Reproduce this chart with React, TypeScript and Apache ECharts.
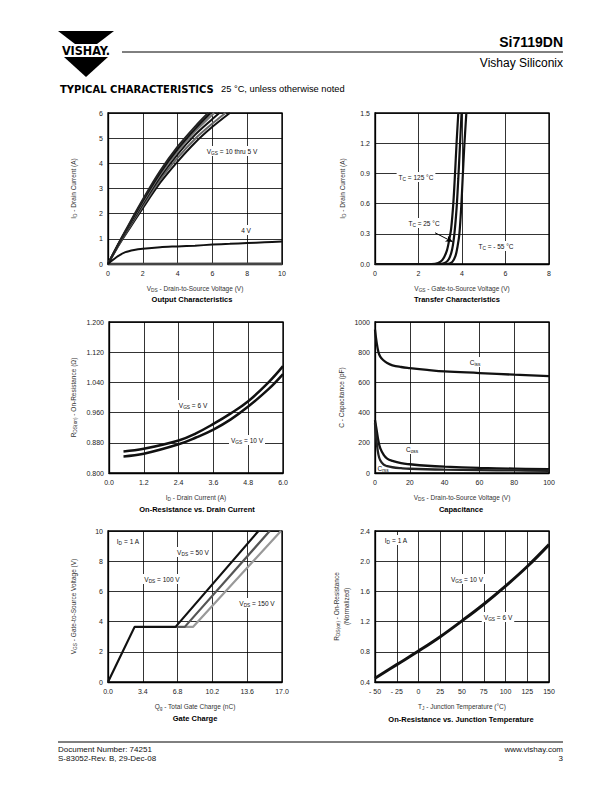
import React, { useEffect, useRef } from 'react';
import * as echarts from 'echarts';

const FONT = '"Liberation Sans", Arial, Helvetica, sans-serif';

// ---- Output Characteristics (VDS [V], ID [A]) ----
const outV10 = [[0, 0], [0.5, 0.68], [1, 1.32], [2, 2.56], [3, 3.7], [4, 4.66], [5, 5.46], [5.75, 6.0]];
const outV9 = [[0, 0], [0.5, 0.67], [1, 1.29], [2, 2.5], [3, 3.62], [4, 4.56], [5, 5.36], [5.9, 6.0]];
const outV8 = [[0, 0], [0.5, 0.66], [1, 1.27], [2, 2.45], [3, 3.55], [4, 4.47], [5, 5.26], [6.1, 6.0]];
const outV7 = [[0, 0], [0.5, 0.65], [1, 1.24], [2, 2.39], [3, 3.46], [4, 4.36], [5, 5.13], [6, 5.76], [6.4, 6.0]];
const outV6 = [[0, 0], [0.5, 0.63], [1, 1.2], [2, 2.31], [3, 3.35], [4, 4.22], [5, 4.97], [6, 5.58], [6.75, 6.0]];
const outV5 = [[0, 0], [0.5, 0.61], [1, 1.16], [2, 2.22], [3, 3.23], [4, 4.07], [5, 4.82], [6, 5.45], [7, 6.0]];
const outV4 = [[0, 0], [0.5, 0.28], [1, 0.47], [1.5, 0.56], [2, 0.61], [3, 0.67], [4, 0.7], [5, 0.73], [6, 0.77], [7, 0.8], [8, 0.83], [9, 0.86], [10, 0.89]];
const outV3 = [[0, 0], [10, 0.01]];

// ---- Transfer Characteristics (VGS [V], ID [A]) ----
const tr125 = [[0, 0], [2.6, 0], [2.9, 0.01], [3.1, 0.04], [3.3, 0.13], [3.42, 0.25], [3.5, 0.35], [3.6, 0.6], [3.68, 0.9], [3.75, 1.2], [3.83, 1.5]];
const tr25 = [[0, 0], [2.9, 0], [3.2, 0.01], [3.4, 0.05], [3.55, 0.15], [3.65, 0.3], [3.75, 0.55], [3.83, 0.85], [3.9, 1.15], [3.98, 1.5]];
const trM55 = [[0, 0], [3.3, 0], [3.55, 0.02], [3.7, 0.08], [3.8, 0.18], [3.88, 0.3], [3.96, 0.55], [4.03, 0.85], [4.1, 1.15], [4.2, 1.5]];

// ---- On-Resistance vs. Drain Current (ID [A], RDS(on) [ohm]) ----
const rdsV6 = [[0.5, 0.857], [1.2, 0.864], [2.4, 0.886], [3.0, 0.905], [3.6, 0.93], [4.2, 0.958], [4.8, 0.99], [5.5, 1.04], [6.0, 1.083]];
const rdsV10 = [[0.5, 0.844], [1.2, 0.851], [2.4, 0.876], [3.0, 0.894], [3.6, 0.915], [4.2, 0.942], [4.8, 0.976], [5.5, 1.022], [6.0, 1.062]];

// ---- Capacitance (VDS [V], C [pF]) ----
const cIss = [[0, 950], [1, 860], [2, 800], [3, 770], [5, 745], [7, 728], [10, 713], [15, 702], [20, 695], [30, 683], [40, 673], [60, 662], [80, 651], [100, 642]];
const cOss = [[0, 350], [1, 280], [2, 210], [3, 165], [5, 120], [7, 95], [10, 80], [15, 65], [20, 58], [30, 48], [40, 42], [60, 34], [80, 29], [100, 25]];
const cRss = [[0, 330], [1, 200], [2, 120], [3, 85], [5, 55], [7, 45], [10, 38], [15, 32], [20, 28], [40, 22], [60, 19], [80, 17], [100, 15]];

// ---- Gate Charge (Qg [nC], VGS [V]) ----
const qg50 = [[0, 0], [2.6, 3.65], [6.6, 3.65], [14.7, 10]];
const qg100 = [[6.6, 3.65], [7.5, 3.65], [15.8, 10]];
const qg150 = [[7.5, 3.65], [8.3, 3.65], [16.9, 10]];

// ---- On-Resistance vs. Junction Temperature (TJ [°C], normalized) ----
const rtj = [[-50, 0.45], [-25, 0.63], [0, 0.81], [25, 1.0], [50, 1.21], [75, 1.43], [100, 1.67], [125, 1.93], [150, 2.22]];

const RICH = {
  n: { fontSize: 6.5, fontFamily: FONT, color: '#333', lineHeight: 10, verticalAlign: 'middle' },
  s: { fontSize: 4.8, fontFamily: FONT, color: '#333', lineHeight: 5, verticalAlign: 'bottom' },
};
const RICH_A = {
  n: { fontSize: 6.5, fontFamily: FONT, fill: '#111', color: '#111', lineHeight: 10, verticalAlign: 'middle' },
  s: { fontSize: 4.8, fontFamily: FONT, fill: '#111', color: '#111', lineHeight: 5, verticalAlign: 'bottom' },
};

const grids = [
  { left: 108, top: 113, width: 174, height: 151 },
  { left: 375, top: 113, width: 174, height: 151 },
  { left: 109, top: 322, width: 174, height: 151 },
  { left: 375, top: 322, width: 174, height: 151 },
  { left: 108, top: 531, width: 174, height: 151 },
  { left: 375, top: 531, width: 174, height: 151 },
].map((g) => ({ ...g, show: true, borderColor: '#000', borderWidth: 1.3, backgroundColor: 'transparent' }));

function axis(gi: number, min: number, max: number, interval: number, name: string, fmt: (v: number) => string, isY: boolean, gap: number) {
  return {
    gridIndex: gi,
    type: 'value',
    min,
    max,
    interval,
    name,
    nameLocation: 'middle',
    nameGap: gap,
    nameTextStyle: { fontFamily: FONT, fontSize: 6.5, color: '#333', rich: RICH },
    axisLine: { show: true, onZero: false, lineStyle: { color: '#000', width: 1.3 } },
    axisTick: { show: false },
    axisLabel: { fontFamily: FONT, fontSize: 7, color: '#222', margin: isY ? 5 : 6, formatter: fmt },
    splitLine: { show: true, lineStyle: { color: '#000', width: 0.8 } },
  };
}

const fInt = (v: number) => String(Math.round(v));
const f1 = (v: number) => v.toFixed(1);
const f3 = (v: number) => v.toFixed(3);
const fNeg = (v: number) => (v < 0 ? '- ' + Math.abs(v) : String(v));

const xAxes = [
  axis(0, 0, 10, 2, '{n|V}{s|DS}{n| - Drain-to-Source Voltage (V)}', fInt, false, 19),
  axis(1, 0, 8, 2, '{n|V}{s|GS}{n| - Gate-to-Source Voltage (V)}', fInt, false, 19),
  axis(2, 0, 6, 1.2, '{n|I}{s|D}{n| - Drain Current (A)}', f1, false, 19),
  axis(3, 0, 100, 20, '{n|V}{s|DS}{n| - Drain-to-Source Voltage (V)}', fInt, false, 19),
  axis(4, 0, 17, 3.4, '{n|Q}{s|g}{n| - Total Gate Charge (nC)}', f1, false, 19),
  axis(5, -50, 150, 25, '{n|T}{s|J}{n| - Junction Temperature (°C)}', fNeg, false, 19),
];
const yAxes = [
  axis(0, 0, 6, 1, '{n|I}{s|D}{n| - Drain Current (A)}', fInt, true, 30),
  axis(1, 0, 1.5, 0.3, '{n|I}{s|D}{n| - Drain Current (A)}', f1, true, 28),
  axis(2, 0.8, 1.2, 0.08, '{n|R}{s|DS(on)}{n| - On-Resistance (Ω)}', f3, true, 31),
  axis(3, 0, 1000, 200, '{n|C - Capacitance (pF)}', fInt, true, 29),
  axis(4, 0, 10, 2, '{n|V}{s|GS}{n| - Gate-to-Source Voltage (V)}', fInt, true, 30),
  axis(5, 0.4, 2.4, 0.4, '{n|R}{s|DS(on)}{n| - On-Resistance}\n{n|(Normalized)}', f1, true, 24),
];

function line(gi: number, data: number[][], color: string, width: number, smooth: boolean | number, z = 2) {
  return {
    type: 'line',
    xAxisIndex: gi,
    yAxisIndex: gi,
    data,
    showSymbol: false,
    symbol: 'none',
    smooth,
    z,
    lineStyle: { color, width },
    silent: true,
  };
}

const series: any[] = [
  line(0, outV3, '#444', 2.5, false),
  line(0, outV5, '#111', 2, 0.3),
  line(0, outV6, '#666', 2, 0.3),
  line(0, outV7, '#111', 2, 0.3),
  line(0, outV8, '#777', 2, 0.3),
  line(0, outV9, '#111', 2, 0.3),
  line(0, outV10, '#222', 2, 0.3),
  line(0, outV4, '#111', 2, 0.3),
  line(1, trM55, '#111', 2.2, 0.3),
  {
    ...line(1, tr25, '#111', 2.2, 0.3),
    markLine: {
      silent: true,
      symbol: ['none', 'arrow'],
      symbolSize: [5, 7],
      lineStyle: { color: '#000', width: 1, type: 'solid' },
      label: { show: false },
      data: [[{ coord: [2.76, 0.31] }, { coord: [3.57, 0.22] }]],
    },
  },
  line(1, tr125, '#111', 2.2, 0.3),
  line(2, rdsV6, '#111', 2.5, 0.4),
  line(2, rdsV10, '#111', 2.5, 0.4),
  line(3, cIss, '#111', 2.3, 0.4),
  line(3, cOss, '#111', 2.3, 0.4),
  line(3, cRss, '#222', 2.3, 0.4),
  line(4, qg150, '#999', 2.2, false, 2),
  line(4, qg100, '#555', 2.2, false, 3),
  line(4, qg50, '#111', 2.2, false, 4),
  line(5, rtj, '#111', 3, 0.4),
];

function ann(x: number, y: number, text: string, bg = true) {
  return {
    type: 'text',
    x,
    y,
    z: 50,
    style: {
      text,
      rich: RICH_A,
      fontSize: 6.5,
      fontFamily: FONT,
      fill: '#111',
      align: 'center',
      verticalAlign: 'middle',
      backgroundColor: bg ? '#fff' : undefined,
      padding: [0, 2],
    },
  };
}

function txt(x: number, y: number, text: string, size: number, weight: string, align: string, fill = '#000', family = FONT) {
  return {
    type: 'text',
    x,
    y,
    z: 50,
    style: { text, fontSize: size, fontWeight: weight, fontFamily: family, fill, align, verticalAlign: 'middle' },
  };
}

const graphic: any[] = [
  // logo
  { type: 'polygon', shape: { points: [[58, 31], [114, 31], [97, 44], [75, 44]] }, style: { fill: '#000' } },
  txt(86, 50.5, 'VISHAY.', 12.5, '900', 'center', '#000', '"DejaVu Sans Condensed", "DejaVu Sans", sans-serif'),
  { type: 'polygon', shape: { points: [[64, 57], [108, 57], [86, 77]] }, style: { fill: '#000' } },
  // header
  txt(563, 42, 'Si7119DN', 14, 'bold', 'right'),
  { type: 'line', shape: { x1: 122, y1: 52, x2: 563, y2: 52 }, style: { stroke: '#000', lineWidth: 1 } },
  txt(563, 63, 'Vishay Siliconix', 12, 'normal', 'right'),
  txt(60, 89, 'TYPICAL CHARACTERISTICS', 10, 'bold', 'left', '#000', '"DejaVu Sans", sans-serif'),
  txt(221, 89, '25 °C, unless otherwise noted', 9.3, 'normal', 'left'),
  // subtitles
  txt(192, 299, 'Output Characteristics', 7.5, 'bold', 'center'),
  txt(457, 299, 'Transfer Characteristics', 7.5, 'bold', 'center'),
  txt(197, 509, 'On-Resistance vs. Drain Current', 7.5, 'bold', 'center'),
  txt(461, 509, 'Capacitance', 7.5, 'bold', 'center'),
  txt(195, 718, 'Gate Charge', 7.5, 'bold', 'center'),
  txt(461, 719, 'On-Resistance vs. Junction Temperature', 7.5, 'bold', 'center'),
  // annotations
  ann(232, 151, '{n|V}{s|GS}{n| = 10 thru 5 V}'),
  ann(246, 230, '{n|4 V}'),
  ann(416, 177, '{n|T}{s|C}{n| = 125 °C}'),
  ann(424, 223, '{n|T}{s|C}{n| = 25 °C}'),
  ann(496, 246, '{n|T}{s|C}{n| = - 55 °C}'),
  ann(193, 405, '{n|V}{s|GS}{n| = 6 V}'),
  ann(247, 440, '{n|V}{s|GS}{n| = 10 V}'),
  ann(475, 362, '{n|C}{s|iss}'),
  ann(412, 449, '{n|C}{s|oss}'),
  ann(383, 468, '{n|C}{s|rss}', false),
  ann(128, 541, '{n|I}{s|D}{n| = 1 A}'),
  ann(193, 552, '{n|V}{s|DS}{n| = 50 V}'),
  ann(162, 579, '{n|V}{s|DS}{n| = 100 V}'),
  ann(257, 603, '{n|V}{s|DS}{n| = 150 V}'),
  ann(396, 540, '{n|I}{s|D}{n| = 1 A}'),
  ann(467, 579, '{n|V}{s|GS}{n| = 10 V}'),
  ann(498, 617, '{n|V}{s|GS}{n| = 6 V}'),
  // footer
  { type: 'line', shape: { x1: 58, y1: 742, x2: 563, y2: 742 }, style: { stroke: '#000', lineWidth: 1 } },
  txt(58, 749, 'Document Number: 74251', 8, 'normal', 'left', '#111'),
  txt(58, 758, 'S-83052-Rev. B, 29-Dec-08', 8, 'normal', 'left', '#111'),
  txt(563, 749, 'www.vishay.com', 8, 'normal', 'right', '#111'),
  txt(563, 758, '3', 8, 'normal', 'right', '#111'),
];

const option = {
  animation: false,
  backgroundColor: '#fff',
  grid: grids,
  xAxis: xAxes,
  yAxis: yAxes,
  series,
  graphic,
};

export default function App() {
  const ref = useRef<HTMLDivElement>(null);
  useEffect(() => {
    const chart = echarts.init(ref.current as HTMLDivElement, null, { renderer: 'svg' });
    chart.setOption(option as any);
    return () => chart.dispose();
  }, []);
  return (
    <div
      ref={ref}
      style={{ position: 'absolute', left: 0, top: 0, width: 612, height: 792, background: '#fff' }}
    />
  );
}
